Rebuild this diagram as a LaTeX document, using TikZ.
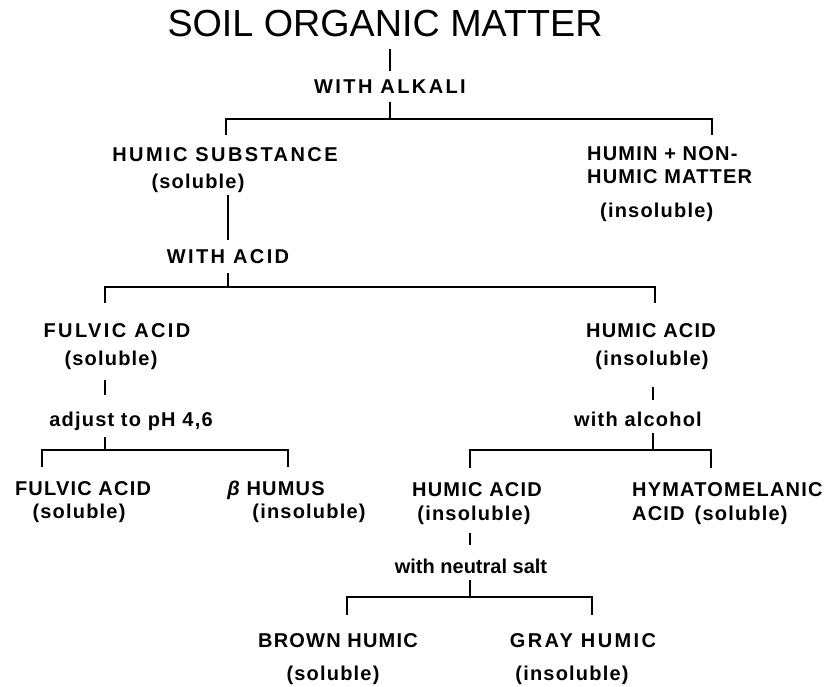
\documentclass[tikz,border=0pt]{standalone}
\usepackage{fontspec}
\setmainfont{Liberation Sans}
\newfontfamily\widefont{Liberation Sans}[LetterSpace=12]
\newfontfamily\midfont{Liberation Sans}[LetterSpace=6]
\newfontfamily\tightfont{Liberation Sans}
\tikzset{
  titlelbl/.style={inner sep=0pt, text height=27pt, text depth=0pt, font=\fontsize{37.7}{40}\selectfont},
  lbl/.style={inner sep=0pt, text height=14pt, text depth=0pt, font=\midfont\bfseries\fontsize{20}{24}\selectfont},
  wlbl/.style={lbl, font=\widefont\bfseries\fontsize{20}{24}\selectfont},
  tlbl/.style={lbl, font=\tightfont\bfseries\fontsize{20}{24}\selectfont},
  ln/.style={line width=2pt, line join=miter}
}
\begin{document}
\begin{tikzpicture}[x=1pt,y=-1pt]
\useasboundingbox[fill=white] (0,0) rectangle (831,687);
% nodes
\node[titlelbl] (title) at (385,23.5) {SOIL ORGANIC MATTER};
\node[wlbl] (alk) at (390,87) {WITH ALKALI};
\node[wlbl] (hs) at (225,155) {HUMIC SUBSTANCE};
\node[lbl] (hs2) at (198,182) {(soluble)};
\node[lbl,anchor=west] (hm1) at (587,154) {HUMIN + NON-};
\node[lbl,anchor=west] (hm2) at (587,177) {HUMIC MATTER};
\node[lbl,anchor=west] (hm3) at (600,211) {(insoluble)};
\node[wlbl] (acid) at (228,257) {WITH ACID};
\node[wlbl] (fa) at (117,331) {FULVIC ACID};
\node[lbl] (fa2) at (111,359) {(soluble)};
\node[lbl] (ha) at (651,331) {HUMIC ACID};
\node[lbl] (ha2) at (652,359) {(insoluble)};
\node[lbl] (ph) at (131,419) {adjust to pH 4,6};
\node[lbl] (alc) at (638,419) {with alcohol};
\node[lbl] (fa3) at (83,488) {FULVIC ACID};
\node[lbl] (fa4) at (79,511) {(soluble)};
\node[lbl] (bh) at (276,488) {{\itshape β} HUMUS};
\node[lbl] (bh2) at (309,511) {(insoluble)};
\node[lbl] (ha3) at (477,489) {HUMIC ACID};
\node[lbl] (ha4) at (474,513) {(insoluble)};
\node[lbl,anchor=west] (hy) at (632,489) {HYMATOMELANIC};
\node[lbl,anchor=west] (hy2) at (632,513) {ACID\hspace{10pt}(soluble)};
\node[tlbl] (ns) at (471,566) {with neutral salt};
\node[lbl] (br) at (338,640) {BROWN HUMIC};
\node[lbl] (br2) at (333,673) {(soluble)};
\node[wlbl] (gr) at (583,640) {GRAY HUMIC};
\node[lbl] (gr2) at (572,673) {(insoluble)};
% junctions and branch ends
\coordinate (j1) at (390,119); \coordinate (l1) at (226,135); \coordinate (r1) at (712,135);
\coordinate (j2) at (228,287); \coordinate (l2) at (105,303); \coordinate (r2) at (655,303);
\coordinate (j3) at (105,450); \coordinate (l3) at (42,467);  \coordinate (r3) at (288,467);
\coordinate (j4) at (653,450); \coordinate (l4) at (470,468); \coordinate (r4) at (711,468);
\coordinate (j5) at (470,597); \coordinate (l5) at (347,615); \coordinate (r5) at (592,615);
% connectors
\draw[ln,shorten <=12pt,shorten >=9pt] (title.south -| alk.north) -- (alk.north);
\draw[ln,shorten <=8pt] (alk.south) -- (j1);
\draw[ln] (l1) |- (j1) -| (r1);
\draw[ln,shorten <=6pt,shorten >=10pt] (hs2.south -| acid.north) -- (acid.north);
\draw[ln,shorten <=9pt] (acid.south) -- (j2);
\draw[ln] (l2) |- (j2) -| (r2);
\draw[ln,shorten <=14pt,shorten >=17pt] (fa2.south -| j3) -- (ph.north -| j3);
\draw[ln,shorten <=11pt] (ph.south -| j3) -- (j3);
\draw[ln] (l3) |- (j3) -| (r3);
\draw[ln,shorten <=21pt,shorten >=12pt] (ha2.south -| j4) -- (alc.north -| j4);
\draw[ln,shorten <=7pt] (alc.south -| j4) -- (j4);
\draw[ln] (l4) |- (j4) -| (r4);
\draw[ln,shorten <=13pt,shorten >=14pt] (ha4.south -| j5) -- (ns.north -| j5);
\draw[ln,shorten <=7pt] (ns.south -| j5) -- (j5);
\draw[ln] (l5) |- (j5) -| (r5);
\end{tikzpicture}
\end{document}
